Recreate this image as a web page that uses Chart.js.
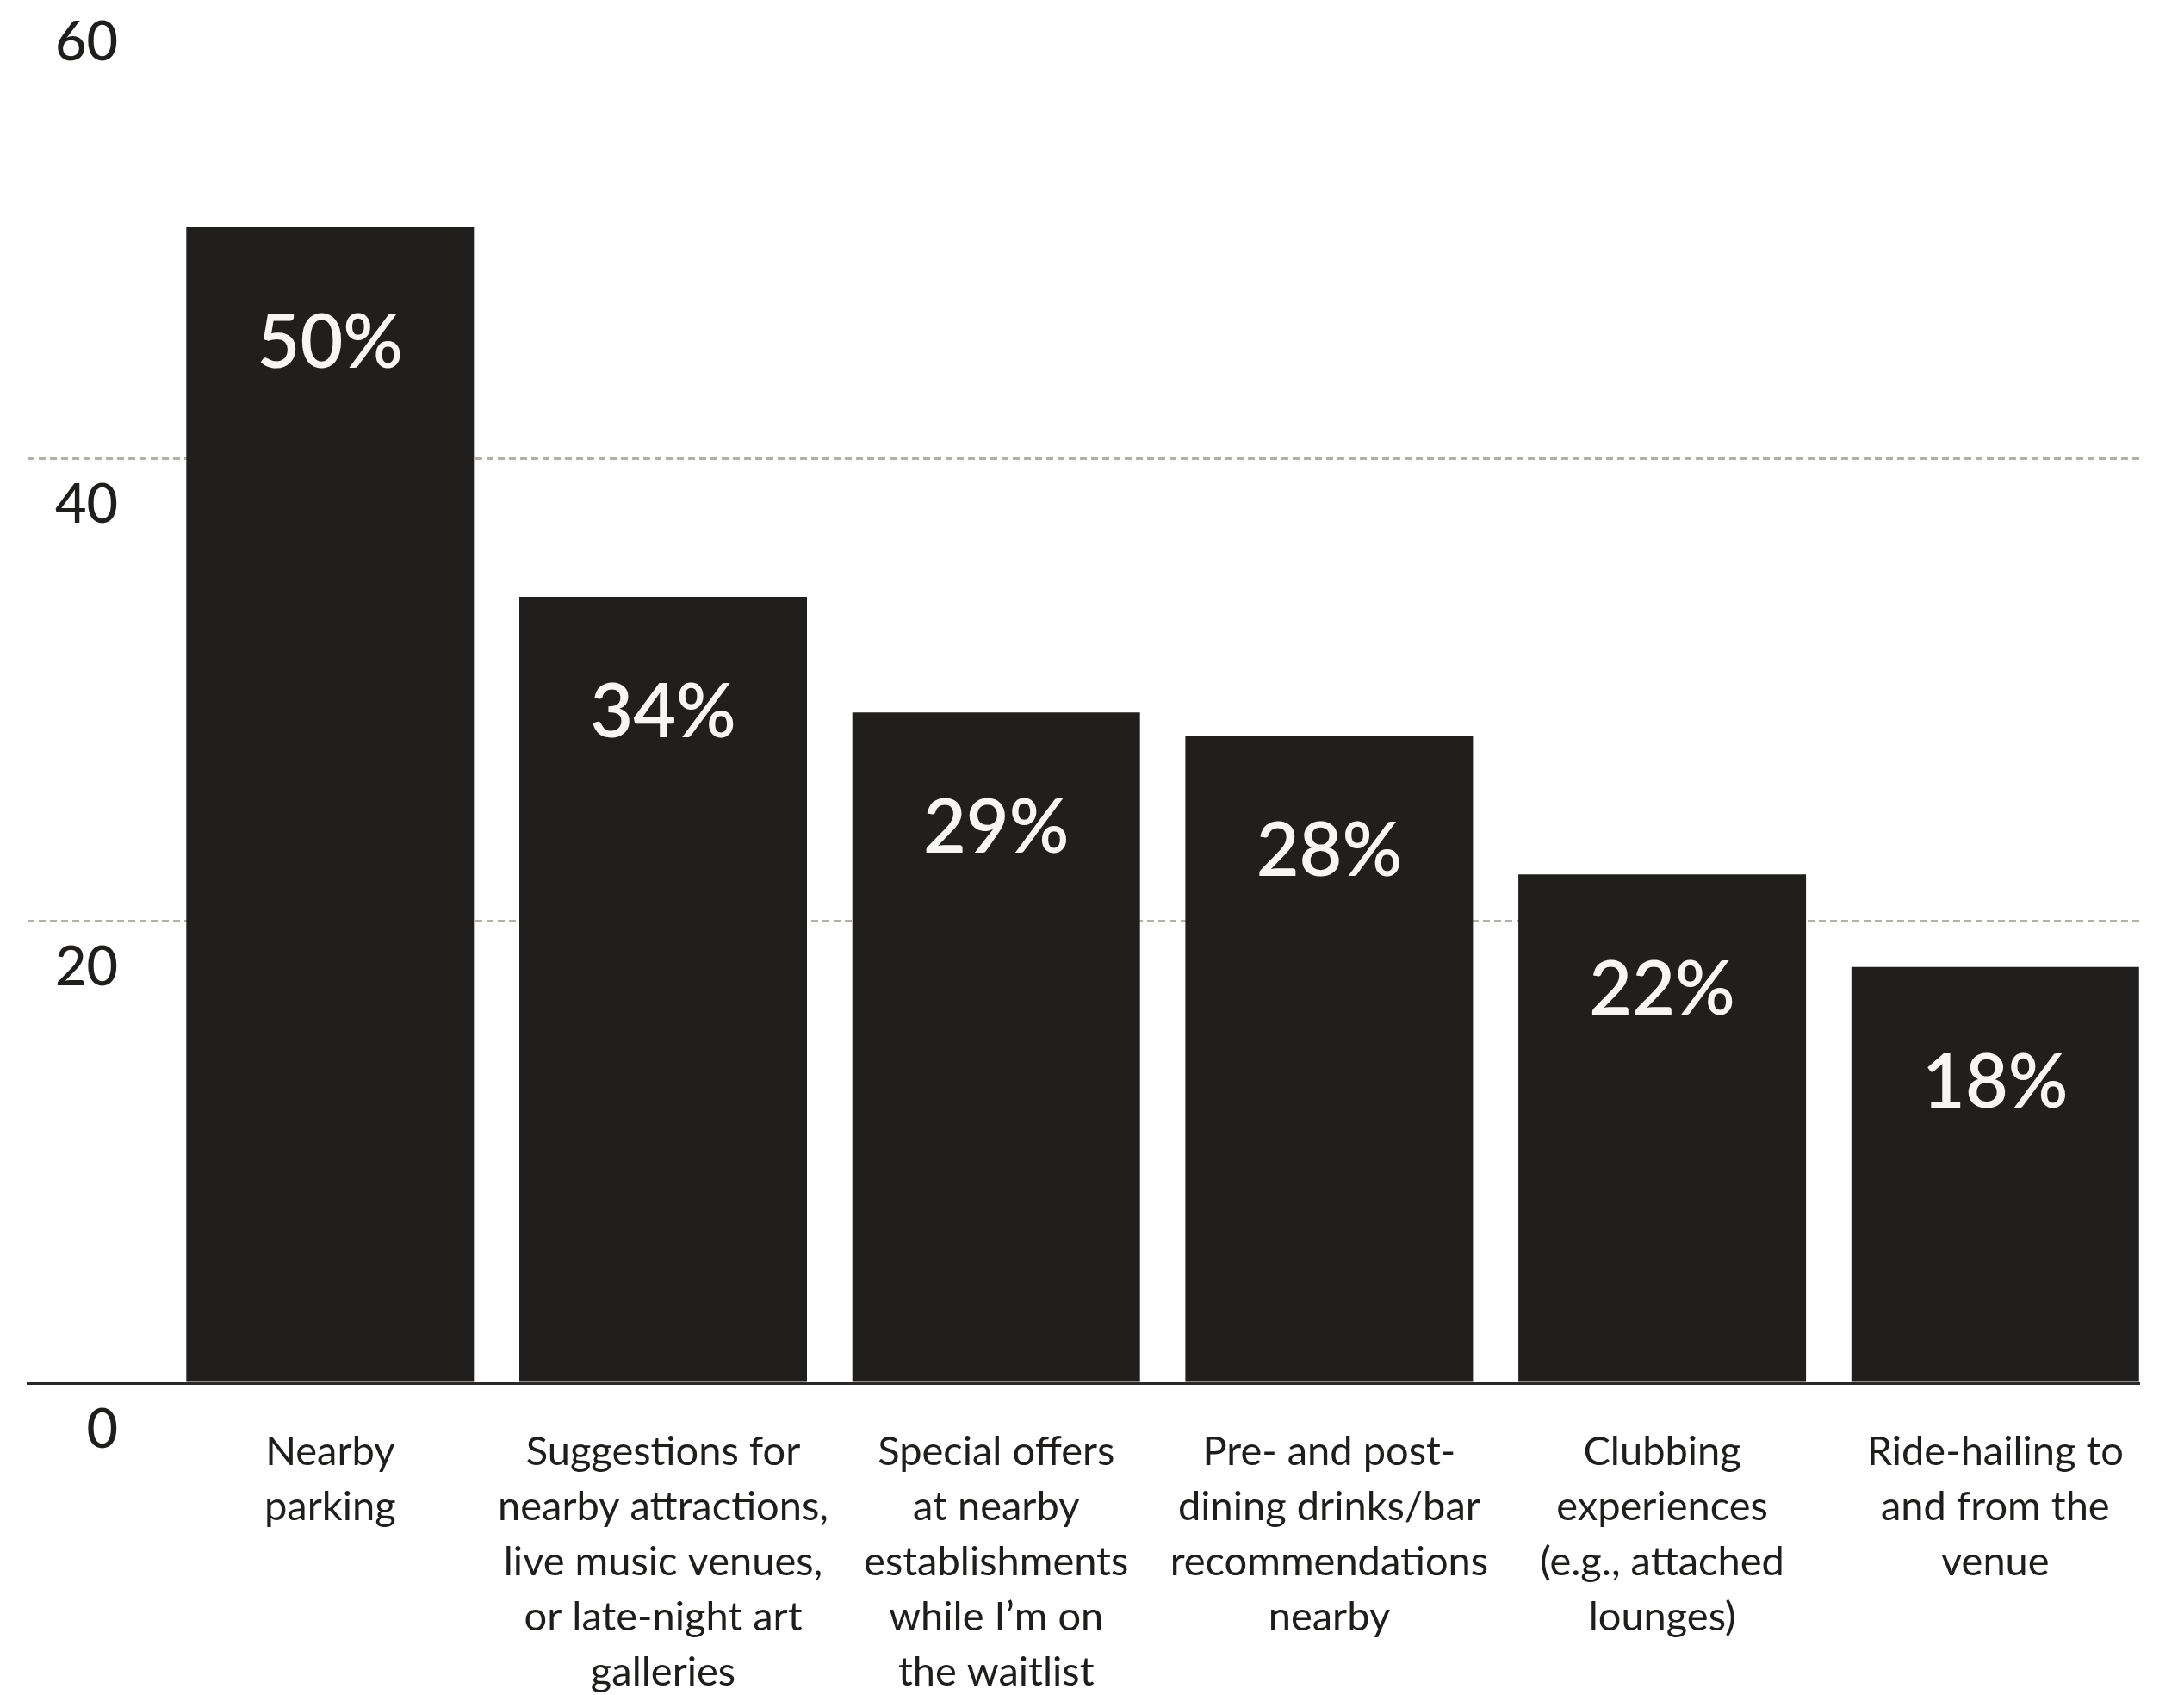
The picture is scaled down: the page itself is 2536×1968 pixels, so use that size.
<!DOCTYPE html>
<html>
<head>
<meta charset="utf-8">
<title>Nearby services</title>
<script src="https://cdn.jsdelivr.net/npm/chart.js@4.4.1/dist/chart.umd.min.js"></script>
<style>
  html, body { margin: 0; padding: 0; background: #fff; overflow: hidden; }
  #wrap { position: absolute; left: 0; top: -5px; }
</style>
</head>
<body>
<div id="wrap"><canvas id="chart" width="2536" height="1973"></canvas></div>
<script>
// one entry per bar, each line of the label as its own string
const categories = [
  ['Nearby', 'parking'],
  ['Suggestions for', 'nearby attractions,', 'live music venues,', 'or late-night art', 'galleries'],
  ['Special offers', 'at nearby', 'establishments', 'while I\u2019m on', 'the waitlist'],
  ['Pre- and post-', 'dining drinks/bar', 'recommendations', 'nearby'],
  ['Clubbing', 'experiences', '(e.g., attached', 'lounges)'],
  ['Ride-hailing to', 'and from the', 'venue']
];
const shares = [50, 34, 29, 28, 22, 18];
const yTicks = [0, 20, 40, 60];

const ink = '#1f1e1c';
const barColor = '#201f1d';
const gridColor = '#b3b0a8';
const family = 'Lato';

// percentage printed in white near the top of each bar
const valueLabels = {
  id: 'valueLabels',
  afterDatasetsDraw(chart) {
    const ctx = chart.ctx;
    const meta = chart.getDatasetMeta(0);
    ctx.save();
    ctx.fillStyle = '#f7f6f2';
    ctx.font = '600 86px ' + family;
    ctx.textAlign = 'center';
    ctx.textBaseline = 'alphabetic';
    meta.data.forEach((bar, i) => {
      ctx.fillText(shares[i] + '%', bar.x, bar.y + 163);
    });
    ctx.restore();
  }
};

const points = shares.map((v, i) => ({ x: i, y: v }));

new Chart(document.getElementById('chart'), {
  type: 'bar',
  data: {
    datasets: [{
      data: points,
      backgroundColor: barColor,
      borderWidth: 0,
      categoryPercentage: 1,
      barPercentage: 0.8637
    }]
  },
  options: {
    responsive: false,
    animation: false,
    events: [],
    layout: { padding: { left: 32, right: 52, top: 0, bottom: 0 } },
    plugins: { legend: { display: false }, tooltip: { enabled: false } },
    scales: {
      x: {
        type: 'linear',
        offset: false,
        min: -0.9085,
        max: 5.4324,
        grid: { display: false, drawTicks: false, offset: false },
        border: { display: true, color: '#2b2a28', width: 3 },
        afterBuildTicks(scale) {
          scale.ticks = categories.map((_, i) => ({ value: i }));
        },
        afterFit(scale) {
          scale.height = 362;
          scale.paddingLeft = 0;
          scale.paddingRight = 0;
        },
        ticks: {
          autoSkip: false,
          maxRotation: 0,
          padding: 48,
          color: ink,
          font: { family: family, size: 47, lineHeight: 64 / 47 },
          callback: (v) => categories[v]
        }
      },
      y: {
        min: 0,
        max: 60,
        grid: {
          color: gridColor,
          lineWidth: 3,
          drawTicks: false
        },
        border: { display: false, dash: [8, 5] },
        afterBuildTicks(scale) {
          scale.ticks = yTicks.map((v) => ({ value: v }));
        },
        afterFit(scale) {
          scale.width = 0;
          scale.paddingTop = 0;
          scale.paddingBottom = 0;
        },
        ticks: {
          mirror: true,
          crossAlign: 'far',
          padding: 32,
          labelOffset: 55,
          color: ink,
          font: { family: family, size: 63, weight: 500 }
        }
      }
    }
  },
  plugins: [valueLabels]
});
</script>
</body>
</html>
